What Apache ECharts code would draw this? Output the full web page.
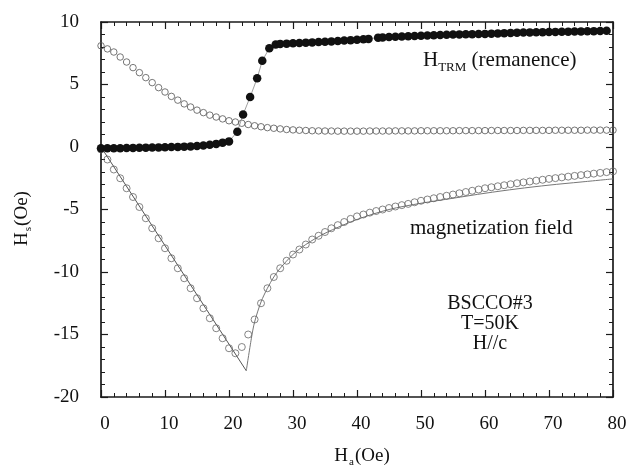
<!DOCTYPE html>
<html>
<head>
<meta charset="utf-8">
<script src="https://cdn.jsdelivr.net/npm/echarts@6/dist/echarts.min.js"></script>
<style>
html,body{margin:0;padding:0;background:#fff;}
#chart{width:638px;height:465px;}
</style>
</head>
<body>
<div id="chart"></div>
<script>
// ---- data ----
var xTicks = [0, 10, 20, 30, 40, 50, 60, 70, 80];
var yTicks = [-20, -15, -10, -5, 0, 5, 10];

// H_TRM (remanence), filled circles
var trmH = [0,1,2,3,4,5,6,7,8,9,10,11,12,13,14,15,16,17,18,19,20,
  21.3,22.2,23.3,24.4,25.2,26.3,27.3,28,29,30,31,32,33,34,35,36,37,38,39,40,41,41.8,
  43.3,44,45,46,47,48,49,50,51,52,53,54,55,56,57,58,59,60,61,62,63,64,65,66,67,68,69,70,71,72,73,74,75,76,77,78,79];
var trmV = [-0.1,-0.1,-0.1,-0.1,-0.08,-0.07,-0.06,-0.05,-0.04,-0.03,-0.02,0,0.01,0.03,0.05,0.08,0.12,0.18,0.25,0.35,0.45,
  1.22,2.6,4.0,5.5,6.9,7.9,8.2,8.25,8.27,8.3,8.32,8.35,8.37,8.4,8.42,8.45,8.48,8.52,8.55,8.58,8.62,8.65,
  8.75,8.77,8.8,8.82,8.84,8.86,8.88,8.9,8.92,8.94,8.96,8.98,9.0,9.01,9.02,9.03,9.04,9.05,9.07,9.09,9.11,9.13,9.15,9.16,9.17,9.18,9.19,9.2,9.21,9.22,9.23,9.24,9.25,9.26,9.27,9.28,9.3];

// upper open circles (decreasing)
var upH = [0,1,2,3,4,5,6,7,8,9,10,11,12,13,14,15,16,17,18,19,20,21,22,23,24,25,26,27,28,29,30,
  31,32,33,34,35,36,37,38,39,40,41,42,43,44,45,46,47,48,49,50,51,52,53,54,55,56,57,58,59,60,
  61,62,63,64,65,66,67,68,69,70,71,72,73,74,75,76,77,78,79,80];
var upV = [8.1,7.85,7.6,7.2,6.8,6.35,5.95,5.55,5.15,4.75,4.4,4.05,3.75,3.45,3.2,2.95,2.75,2.55,2.4,2.25,2.1,2.0,1.9,1.8,1.7,1.62,1.55,1.5,1.45,1.4,1.37,
  1.34,1.32,1.3,1.29,1.28,1.28,1.27,1.27,1.27,1.27,1.27,1.28,1.28,1.28,1.28,1.29,1.29,1.29,1.29,1.3,1.3,1.3,1.3,1.3,1.3,1.31,1.31,1.31,1.31,1.31,
  1.32,1.32,1.32,1.32,1.32,1.33,1.33,1.33,1.33,1.33,1.34,1.34,1.34,1.34,1.34,1.35,1.35,1.35,1.35,1.35];

// magnetization field, lower open circles
var magH = [0,1,2,3,4,5,6,7,8,9,10,11,12,13,14,15,16,17,18,19,20,21,22,23,24,25,26,27,28,29,30,
  31,32,33,34,35,36,37,38,39,40,41,42,43,44,45,46,47,48,49,50,51,52,53,54,55,56,57,58,59,60,
  61,62,63,64,65,66,67,68,69,70,71,72,73,74,75,76,77,78,79,80];
var magV = [-0.2,-1.0,-1.8,-2.5,-3.3,-4.0,-4.8,-5.7,-6.5,-7.3,-8.1,-8.9,-9.7,-10.5,-11.3,-12.1,-12.9,-13.7,-14.5,-15.3,-16.1,-16.5,-16.0,-15.0,-13.8,-12.5,-11.3,-10.4,-9.7,-9.1,-8.6,
  -8.2,-7.8,-7.4,-7.1,-6.8,-6.5,-6.25,-6.0,-5.75,-5.55,-5.4,-5.25,-5.12,-5.0,-4.88,-4.76,-4.65,-4.55,-4.42,-4.3,-4.2,-4.1,-4.0,-3.9,-3.8,-3.7,-3.6,-3.5,-3.4,-3.3,
  -3.22,-3.14,-3.06,-2.98,-2.9,-2.83,-2.76,-2.69,-2.62,-2.55,-2.49,-2.43,-2.37,-2.31,-2.25,-2.19,-2.13,-2.07,-2.01,-1.95];

// model lines
var lineAH = [0, 22.7];
var lineAV = [0, -17.9];
var lineBH = [22.7,23.5,24,25,26,27,28,30,32,35,40,45,50,55,60,65,70,75,80];
var lineBV = [-17.9,-15.3,-14.0,-12.4,-11.3,-10.4,-9.7,-8.6,-7.8,-6.9,-5.8,-5.0,-4.5,-4.1,-3.7,-3.35,-3.05,-2.8,-2.55];

function zip(a, b) { return a.map(function (v, i) { return [v, b[i]]; }); }

var FONT = 'Liberation Serif';
var axisCol = '#1a1a1a';

var chart = echarts.init(document.getElementById('chart'), null, {renderer: 'canvas'});

var richName = {
  a: {fontFamily: FONT, fontSize: 19, color: '#111'},
  b: {fontFamily: FONT, fontSize: 11, color: '#111', padding: [12, 1, 0, 1]}
};

function xAx(pos, show) {
  return {
    type: 'value', position: pos, min: xTicks[0], max: xTicks[xTicks.length - 1], interval: 10,
    axisLine: {show: true, onZero: false, lineStyle: {color: axisCol, width: 1.7}},
    axisTick: {show: true, inside: true, length: 7, lineStyle: {color: axisCol, width: 1.2}},
    splitLine: {show: false},
    axisLabel: {show: show, margin: 18, color: '#111', fontFamily: FONT, fontSize: 19, padding: [0, 0, 0, 8]},
    name: show ? '{a|H}{b|a}{a|(Oe)}' : '',
    nameLocation: 'middle', nameGap: 48,
    nameTextStyle: {color: '#111', fontFamily: FONT, fontSize: 19, rich: richName, padding: [0, 0, 0, 10]}
  };
}
function xMinor(pos) {
  return {
    type: 'value', position: pos, min: xTicks[0], max: xTicks[xTicks.length - 1], interval: 2,
    axisLine: {show: false, onZero: false},
    axisTick: {show: true, inside: true, length: 4, lineStyle: {color: axisCol, width: 1}},
    splitLine: {show: false}, axisLabel: {show: false}
  };
}
function yAx(pos, show) {
  return {
    type: 'value', position: pos, min: yTicks[0], max: yTicks[yTicks.length - 1], interval: 5,
    axisLine: {show: true, onZero: false, lineStyle: {color: axisCol, width: 1.7}},
    axisTick: {show: true, inside: true, length: 7, lineStyle: {color: axisCol, width: 1.2}},
    splitLine: {show: false},
    axisLabel: {show: show, margin: 22, color: '#111', fontFamily: FONT, fontSize: 19},
    name: show ? '{a|H}{b|s}{a|(Oe)}' : '',
    nameLocation: 'middle', nameGap: 67, nameRotate: 90,
    nameTextStyle: {color: '#111', fontFamily: FONT, fontSize: 19, rich: richName, padding: [0, 18, 0, 0]}
  };
}
function yMinor(pos) {
  return {
    type: 'value', position: pos, min: yTicks[0], max: yTicks[yTicks.length - 1], interval: 1,
    axisLine: {show: false, onZero: false},
    axisTick: {show: true, inside: true, length: 4, lineStyle: {color: axisCol, width: 1}},
    splitLine: {show: false}, axisLabel: {show: false}
  };
}

var option = {
  backgroundColor: '#fff',
  animation: false,
  grid: {left: 101, right: 25, top: 22, bottom: 68, containLabel: false, outerBoundsMode: 'none'},
  xAxis: [xAx('bottom', true), xAx('top', false), xMinor('bottom'), xMinor('top')],
  yAxis: [yAx('left', true), yAx('right', false), yMinor('left'), yMinor('right')],
  series: [
    {name: 'model (rising)', type: 'line', data: zip(lineAH, lineAV), symbol: 'none',
     lineStyle: {color: '#555', width: 1}, z: 1},
    {name: 'model (return)', type: 'line', data: zip(lineBH, lineBV), symbol: 'none', smooth: 0.3,
     lineStyle: {color: '#777', width: 1}, z: 1},
    {name: 'magnetization field', type: 'scatter', data: zip(magH, magV), symbol: 'circle', symbolSize: 7,
     itemStyle: {color: 'rgba(255,255,255,0)', borderColor: '#666', borderWidth: 1}, z: 2},
    {name: 'upper', type: 'scatter', data: zip(upH, upV), symbol: 'circle', symbolSize: 6.5,
     itemStyle: {color: 'rgba(255,255,255,0)', borderColor: '#555', borderWidth: 1}, z: 2},
    {name: 'H_TRM', type: 'line', data: zip(trmH, trmV), symbol: 'circle', symbolSize: 8.5,
     showSymbol: true, lineStyle: {color: '#888', width: 0.8},
     itemStyle: {color: '#111', borderColor: '#111', borderWidth: 0}, z: 3}
  ],
  graphic: [
    {type: 'text', left: 423, top: 50, z: 10,
     style: {text: '{h|H}{s|TRM}{h| (remanence)}', fill: '#111',
       rich: {h: {fontFamily: FONT, fontSize: 21, fill: '#111'},
              s: {fontFamily: FONT, fontSize: 13, fill: '#111', padding: [14, 0, 0, 0]}}}},
    {type: 'text', left: 410, top: 218, z: 10,
     style: {text: 'magnetization field', fill: '#111', font: '21px "Liberation Serif"'}},
    {type: 'text', x: 490, y: 294, z: 10,
     style: {text: 'BSCCO#3\nT=50K\nH//c', fill: '#111', font: '20px "Liberation Serif"',
       align: 'center', verticalAlign: 'top', lineHeight: 20}}
  ]
};
chart.setOption(option);
</script>
</body>
</html>
